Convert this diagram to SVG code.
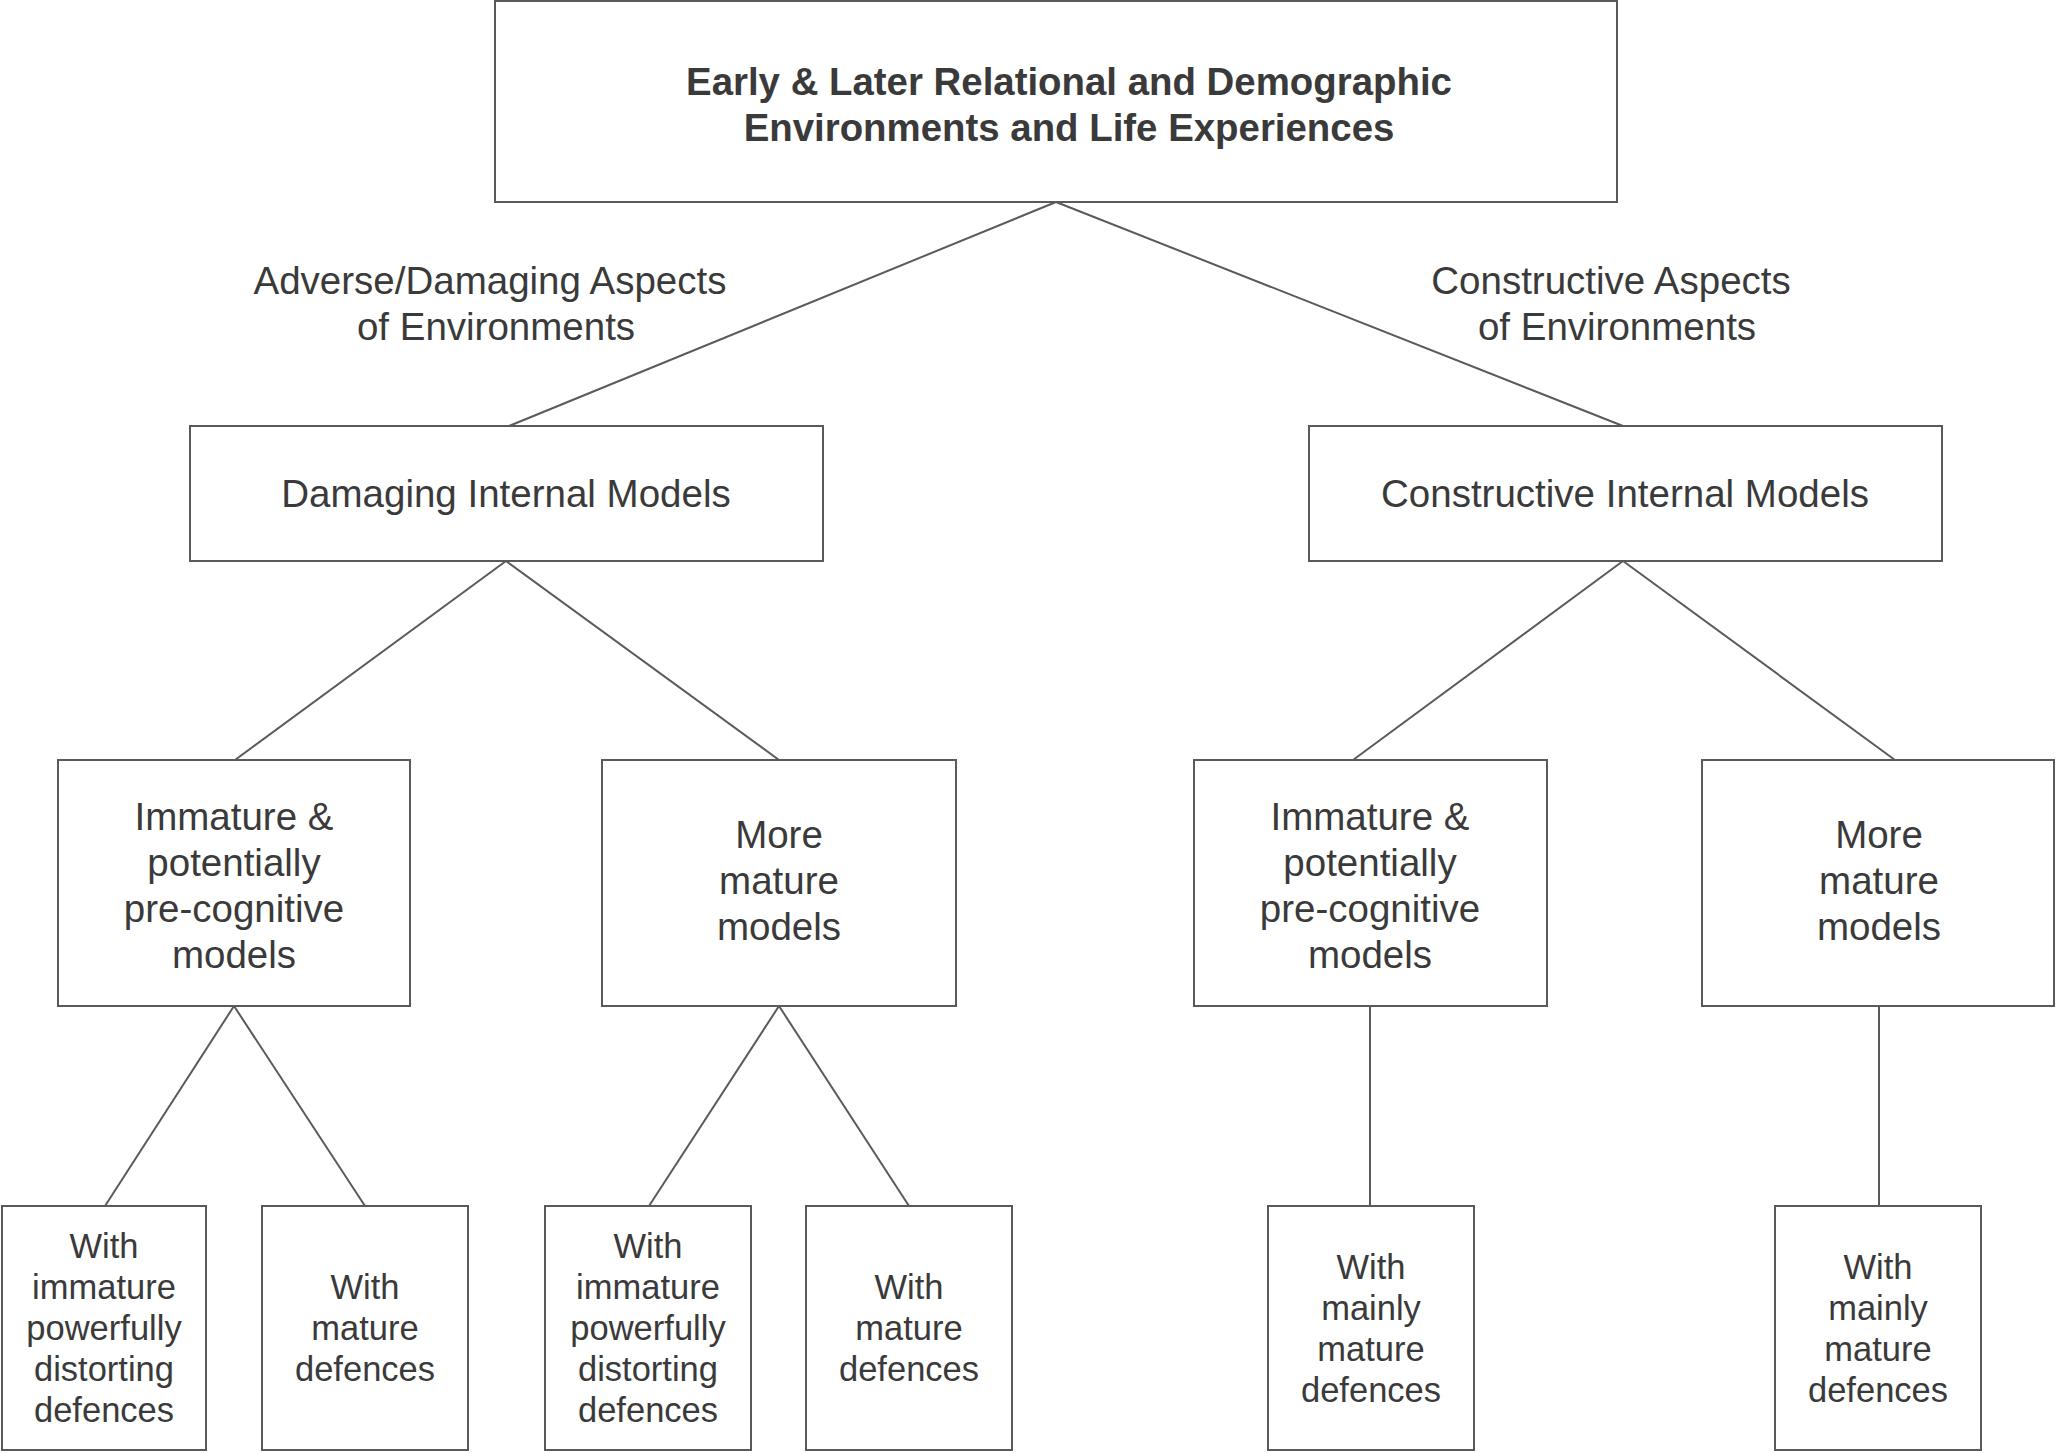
<svg xmlns="http://www.w3.org/2000/svg" width="2056" height="1453" viewBox="0 0 2056 1453">
<style>
.box{fill:#fff;stroke:#5a5a5a;stroke-width:2}
.edge{stroke:#5a5a5a;stroke-width:2;fill:none}
text{font-family:"Liberation Sans",Arial,sans-serif;fill:#3a3a3a;text-anchor:middle}
.t{font-size:38.5px}
.b{font-size:38.4px;font-weight:bold}
.s{font-size:34.5px}
</style>
<rect width="2056" height="1453" fill="#fff"/>
<g id="connectors">
<line class="edge" x1="1056" y1="202" x2="509" y2="426"/>
<line class="edge" x1="1056" y1="202" x2="1623" y2="426"/>
<line class="edge" x1="506" y1="561" x2="235" y2="760"/>
<line class="edge" x1="506" y1="561" x2="779" y2="760"/>
<line class="edge" x1="1623" y1="561" x2="1353" y2="760"/>
<line class="edge" x1="1623" y1="561" x2="1895" y2="760"/>
<line class="edge" x1="234" y1="1006" x2="105" y2="1206"/>
<line class="edge" x1="234" y1="1006" x2="365" y2="1206"/>
<line class="edge" x1="779" y1="1006" x2="649" y2="1206"/>
<line class="edge" x1="779" y1="1006" x2="909" y2="1206"/>
<line class="edge" x1="1370" y1="1006" x2="1370" y2="1206"/>
<line class="edge" x1="1879" y1="1006" x2="1879" y2="1206"/>
<text class="t" x="490" y="294">Adverse/Damaging Aspects</text>
<text class="t" x="496" y="340">of Environments</text>
<text class="t" x="1611" y="294">Constructive Aspects</text>
<text class="t" x="1617" y="340">of Environments</text>
</g>
<g id="top">
<rect class="box" x="495" y="1" width="1122" height="201"/>
<text class="b" x="1069" y="95">Early &amp; Later Relational and Demographic</text>
<text class="b" x="1069" y="141">Environments and Life Experiences</text>
</g>
<g id="damaging">
<rect class="box" x="190" y="426" width="633" height="135"/>
<text class="t" x="506" y="507">Damaging Internal Models</text>
</g>
<g id="constructive">
<rect class="box" x="1309" y="426" width="633" height="135"/>
<text class="t" x="1625" y="507">Constructive Internal Models</text>
</g>
<g id="d-immature">
<rect class="box" x="58" y="760" width="352" height="246"/>
<text class="t" x="234" y="830">Immature &amp;</text>
<text class="t" x="234" y="876">potentially</text>
<text class="t" x="234" y="922">pre-cognitive</text>
<text class="t" x="234" y="968">models</text>
</g>
<g id="d-mature">
<rect class="box" x="602" y="760" width="354" height="246"/>
<text class="t" x="779" y="848">More</text>
<text class="t" x="779" y="894">mature</text>
<text class="t" x="779" y="940">models</text>
</g>
<g id="c-immature">
<rect class="box" x="1194" y="760" width="353" height="246"/>
<text class="t" x="1370" y="830">Immature &amp;</text>
<text class="t" x="1370" y="876">potentially</text>
<text class="t" x="1370" y="922">pre-cognitive</text>
<text class="t" x="1370" y="968">models</text>
</g>
<g id="c-mature">
<rect class="box" x="1702" y="760" width="352" height="246"/>
<text class="t" x="1879" y="848">More</text>
<text class="t" x="1879" y="894">mature</text>
<text class="t" x="1879" y="940">models</text>
</g>
<g id="leaf1">
<rect class="box" x="2" y="1206" width="204" height="244"/>
<text class="s" x="104" y="1258">With</text>
<text class="s" x="104" y="1299">immature</text>
<text class="s" x="104" y="1340">powerfully</text>
<text class="s" x="104" y="1381">distorting</text>
<text class="s" x="104" y="1422">defences</text>
</g>
<g id="leaf2">
<rect class="box" x="262" y="1206" width="206" height="244"/>
<text class="s" x="365" y="1299">With</text>
<text class="s" x="365" y="1340">mature</text>
<text class="s" x="365" y="1381">defences</text>
</g>
<g id="leaf3">
<rect class="box" x="545" y="1206" width="206" height="244"/>
<text class="s" x="648" y="1258">With</text>
<text class="s" x="648" y="1299">immature</text>
<text class="s" x="648" y="1340">powerfully</text>
<text class="s" x="648" y="1381">distorting</text>
<text class="s" x="648" y="1422">defences</text>
</g>
<g id="leaf4">
<rect class="box" x="806" y="1206" width="206" height="244"/>
<text class="s" x="909" y="1299">With</text>
<text class="s" x="909" y="1340">mature</text>
<text class="s" x="909" y="1381">defences</text>
</g>
<g id="leaf5">
<rect class="box" x="1268" y="1206" width="206" height="244"/>
<text class="s" x="1371" y="1279">With</text>
<text class="s" x="1371" y="1320">mainly</text>
<text class="s" x="1371" y="1361">mature</text>
<text class="s" x="1371" y="1402">defences</text>
</g>
<g id="leaf6">
<rect class="box" x="1775" y="1206" width="206" height="244"/>
<text class="s" x="1878" y="1279">With</text>
<text class="s" x="1878" y="1320">mainly</text>
<text class="s" x="1878" y="1361">mature</text>
<text class="s" x="1878" y="1402">defences</text>
</g>
</svg>
